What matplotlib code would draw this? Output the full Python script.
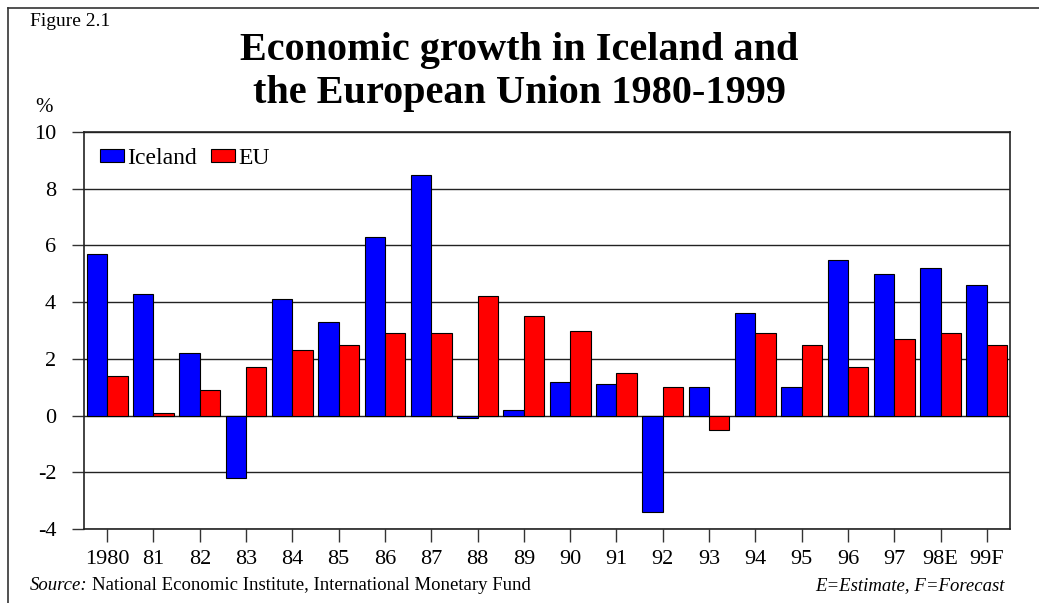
import matplotlib
matplotlib.use("Agg")
import matplotlib.pyplot as plt
import numpy as np
from matplotlib.lines import Line2D

# ---- data ----
years = ["1980", "81", "82", "83", "84", "85", "86", "87", "88", "89",
         "90", "91", "92", "93", "94", "95", "96", "97", "98E", "99F"]
iceland = [5.7, 4.3, 2.2, -2.2, 4.1, 3.3, 6.3, 8.5, -0.1, 0.2,
           1.2, 1.1, -3.4, 1.0, 3.6, 1.0, 5.5, 5.0, 5.2, 4.6]
eu = [1.4, 0.1, 0.9, 1.7, 2.3, 2.5, 2.9, 2.9, 4.2, 3.5,
      3.0, 1.5, 1.0, -0.5, 2.9, 2.5, 1.7, 2.7, 2.9, 2.5]
y_ticks = [-4, -2, 0, 2, 4, 6, 8, 10]

SERIF = ["Liberation Serif", "DejaVu Serif"]
plt.rcParams["font.family"] = SERIF

fig = plt.figure(figsize=(10.39, 6.03), dpi=100)
ax = fig.add_axes([84 / 1039, 1 - 529 / 603, 926 / 1039, 397 / 603])

x = np.arange(len(years))
w = 0.44
ax.bar(x - w / 2, iceland, w, color="#0000ff", edgecolor="black", linewidth=0.8,
       label="Iceland", zorder=3)
ax.bar(x + w / 2, eu, w, color="#ff0000", edgecolor="black", linewidth=0.8,
       label="EU", zorder=3)

ax.set_xlim(-0.5, len(years) - 0.5)
ax.set_ylim(-4, 10)
ax.set_yticks(y_ticks)
ax.set_yticklabels([str(v) for v in y_ticks])
ax.set_xticks(x)
ax.set_xticklabels(years)
ax.tick_params(axis="both", labelsize=16, direction="out", length=9, width=1,
               color="#333333")
ax.tick_params(axis="x", pad=6)
ax.tick_params(axis="y", pad=11)
ax.yaxis.grid(True, color="#222222", linewidth=1)
ax.set_axisbelow(True)
for s in ax.spines.values():
    s.set_color("#222222")
    s.set_linewidth(1.2)

leg = ax.legend(loc="upper left", ncol=2, frameon=False, fontsize=17,
                handlelength=1.0, handleheight=0.5, handletextpad=0.15,
                columnspacing=0.6, borderpad=0, borderaxespad=0,
                bbox_to_anchor=(16 / 926, 0.96))

# titles and notes
fig.text(0.5, 1 - 72 / 603, "Economic growth in Iceland and\nthe European Union 1980-1999",
         ha="center", va="center", fontsize=29, fontweight="bold", linespacing=1.2)
fig.text(30 / 1039, 1 - 22 / 603, "Figure 2.1", ha="left", va="center", fontsize=14)
fig.text(44 / 1039, 1 - 107 / 603, "%", ha="center", va="center", fontsize=15)

t1 = fig.text(30 / 1039, 1 - 586 / 603, "Source:", ha="left", va="center",
              fontsize=13.5, style="italic")
fig.canvas.draw()
bb = t1.get_window_extent()
fig.text((bb.x1 + 4) / fig.bbox.width, 1 - 586 / 603,
         "National Economic Institute, International Monetary Fund",
         ha="left", va="center", fontsize=13.5)
fig.text(1005 / 1039, 1 - 586 / 603, "E=Estimate, F=Forecast", ha="right",
         va="center", fontsize=13.5, style="italic")

# frame lines (left and top only)
fig.add_artist(Line2D([8 / 1039, 8 / 1039], [0, 1 - 8 / 603], transform=fig.transFigure,
                      color="#333333", linewidth=1.2))
fig.add_artist(Line2D([8 / 1039, 1], [1 - 8 / 603, 1 - 8 / 603], transform=fig.transFigure,
                      color="#333333", linewidth=1.2))

fig.savefig("out.png", dpi=100)
